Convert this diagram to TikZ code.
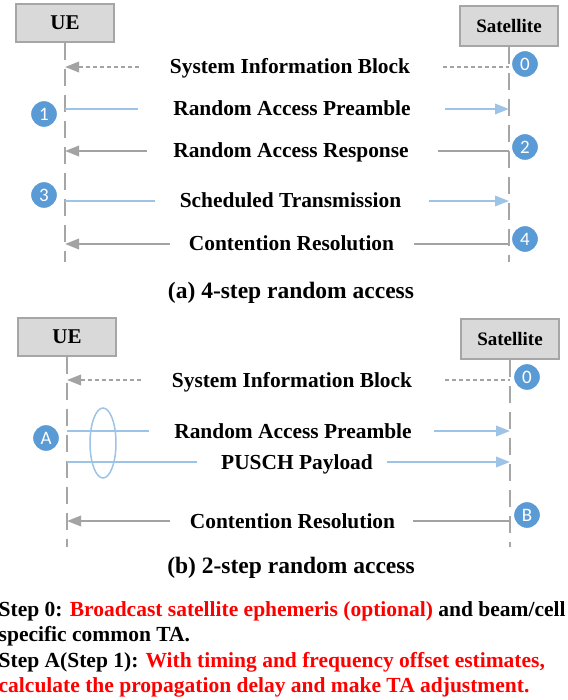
\documentclass[tikz,border=0pt]{standalone}
\usepackage{fontspec}
\setmainfont{Liberation Serif}
\newfontfamily\badgefont{Carlito}
\usetikzlibrary{arrows.meta,shapes.geometric}

\definecolor{boxgray}{HTML}{D9D9D9}
\definecolor{edgegray}{HTML}{A6A6A6}
\definecolor{msggray}{HTML}{A3A3A3}
\definecolor{ulblue}{HTML}{9DC3E6}
\definecolor{badgeblue}{HTML}{5B9BD5}

\tikzset{
  entity/.style={draw=edgegray, fill=boxgray, line width=2pt, minimum width=98pt,
    minimum height=38pt, font=\fontsize{21}{24}\selectfont\bfseries},
  life/.style={draw=edgegray, line width=2pt, dash pattern=on 17pt off 9pt},
  msg/.style={font=\fontsize{21.4}{24}\selectfont\bfseries, inner sep=0pt,
    text height=14pt, text depth=0pt},
  dl/.style={draw=msggray, line width=2pt},
  ul/.style={draw=ulblue, line width=2pt},
  sib/.style={dl, dash pattern=on 4pt off 3pt},
  intip/.style={{Triangle[length=14pt,width=10.5pt]}-},
  outtip/.style={-{Triangle[length=14pt,width=10.5pt]}},
  badge/.style={circle, fill=badgeblue, draw=white, line width=1.2pt,
    minimum size=27pt, inner sep=0pt, text=white,
    font=\badgefont\fontsize{19}{19}\selectfont},
  caption/.style={font=\fontsize{23.5}{26}\selectfont\bfseries, inner sep=0pt},
}

\begin{document}
\begin{tikzpicture}[x=1pt, y=-1pt]
\useasboundingbox (0,0) rectangle (567,700);

% ---- (a) 4-step ----
\node[entity] (ueA) at (65,23) {UE};
\node[entity, minimum height=40pt, font=\fontsize{19}{22}\selectfont\bfseries] (satA) at (509,26) {Satellite};
\coordinate (ueAend) at (65,262);
\coordinate (satAend) at (509,262);
\draw[life] (ueA.south) -- (ueAend);
\draw[life] (satA.south) -- (satAend);

\node[msg] (sibA) at (290,67) {System Information Block};
\draw[sib, intip] (ueA |- sibA) -- ([xshift=-30pt]sibA.west);
\draw[sib] ([xshift=33pt]sibA.east) -- (satA |- sibA);

\node[msg] (rapA) at (292,109) {Random Access Preamble};
\draw[ul] (ueA |- rapA) -- ([xshift=-35pt]rapA.west);
\draw[ul, outtip] ([xshift=34pt]rapA.east) -- (satA |- rapA);

\node[msg] (rarA) at (291,151) {Random Access Response};
\draw[dl, intip] (ueA |- rarA) -- ([xshift=-26pt]rarA.west);
\draw[dl] ([xshift=29pt]rarA.east) -- (satA |- rarA);

\node[msg] (stA) at (290.5,201) {Scheduled Transmission};
\draw[ul] (ueA |- stA) -- ([xshift=-25pt]stA.west);
\draw[ul, outtip] ([xshift=28pt]stA.east) -- (satA |- stA);

\node[msg] (crA) at (291.5,244) {Contention Resolution};
\draw[dl, intip] (ueA |- crA) -- ([xshift=-19pt]crA.west);
\draw[dl] ([xshift=20pt]crA.east) -- (satA |- crA);

\node[badge] (s0A) at (525,64) {0};
\node[badge] (s1A) at (44,114) {1};
\node[badge] (s2A) at (525,147) {2};
\node[badge] (s3A) at (44,195) {3};
\node[badge] (s4A) at (525,239) {4};

\node[caption, anchor=base] (capA) at (291,298) {(a) 4-step random access};

% ---- (b) 2-step ----
\node[entity] (ueB) at (67,336.5) {UE};
\node[entity, minimum height=40pt, font=\fontsize{19}{22}\selectfont\bfseries] (satB) at (510,338.5) {Satellite};
\coordinate (ueBend) at (67,547);
\coordinate (satBend) at (510,547);
\draw[life] (ueB.south) -- (ueBend);
\draw[life] (satB.south) -- (satBend);

\node[msg] (sibB) at (292,380) {System Information Block};
\draw[sib, intip] (ueB |- sibB) -- ([xshift=-30pt]sibB.west);
\draw[sib] ([xshift=33pt]sibB.east) -- (satB |- sibB);

\node[msg] (rapB) at (293,431) {Random Access Preamble};
\draw[ul] (ueB |- rapB) -- ([xshift=-25pt]rapB.west);
\draw[ul, outtip] ([xshift=22pt]rapB.east) -- (satB |- rapB);

\node[msg] (puschB) at (297,462) {PUSCH Payload};
\draw[ul] (ueB |- puschB) -- ([xshift=-24pt]puschB.west);
\draw[ul, outtip] ([xshift=14pt]puschB.east) -- (satB |- puschB);

\node[msg] (crB) at (292.5,521) {Contention Resolution};
\draw[dl, intip] (ueB |- crB) -- ([xshift=-20pt]crB.west);
\draw[dl] ([xshift=18pt]crB.east) -- (satB |- crB);

% both uplink messages go out together
\node[ellipse, draw=ulblue, line width=1.5pt, minimum width=26pt, minimum height=70pt] (grpB) at (103,443) {};

\node[badge] (s0B) at (527,377) {0};
\node[badge] (sAB) at (46,438) {A};
\node[badge] (sBB) at (527,515) {B};

\node[caption, anchor=base] (capB) at (291,573) {(b) 2-step random access};

% step notes
\node[anchor=north west, inner sep=0pt, align=left,
  font=\fontsize{21.5}{25.5}\selectfont\bfseries] (notes) at (-1.5,601)
  {Step 0: \textcolor{red}{Broadcast satellite ephemeris (optional)} and beam/cell\\
   specific common TA.\\
   Step A(Step 1): \textcolor{red}{With timing and frequency offset estimates,}\\
   \textcolor{red}{calculate the propagation delay and make TA adjustment.}};
\end{tikzpicture}
\end{document}
